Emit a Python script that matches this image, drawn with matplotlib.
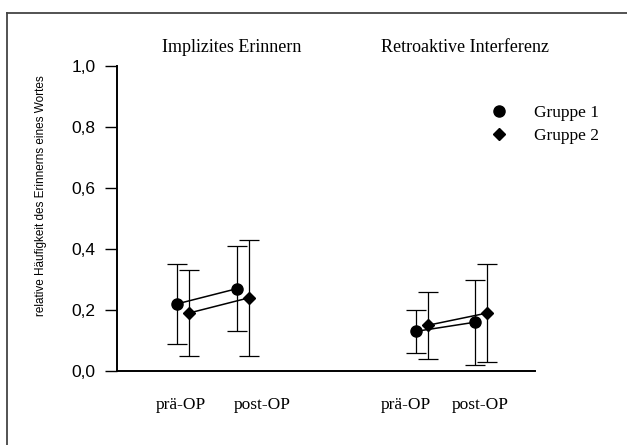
import matplotlib
matplotlib.use("Agg")
import matplotlib.pyplot as plt
from matplotlib.lines import Line2D

# ---- data ----
panels = ["Implizites Erinnern", "Retroaktive Interferenz"]
timepoints = ["prä-OP", "post-OP"]
groups = ["Gruppe 1", "Gruppe 2"]

# mean values [panel][time]
g1_mean = [[0.22, 0.27], [0.13, 0.16]]
g2_mean = [[0.19, 0.24], [0.15, 0.19]]
# upper / lower ends of error bars
g1_upper = [[0.35, 0.41], [0.20, 0.30]]
g1_lower = [[0.09, 0.13], [0.06, 0.02]]
g2_upper = [[0.33, 0.43], [0.26, 0.35]]
g2_lower = [[0.05, 0.05], [0.04, 0.03]]

y_ticks = [0.0, 0.2, 0.4, 0.6, 0.8, 1.0]
y_tick_labels = ["0,0", "0,2", "0,4", "0,6", "0,8", "1,0"]
y_label = "relative Häufigkeit des Erinnerns eines Wortes"

# ---- layout (pixel-like units) ----
W, H = 627, 445
fig = plt.figure(figsize=(W / 100, H / 100), dpi=100)
ax_left, ax_right, ax_top, ax_bottom = 117, 535, 66, 371
ax = fig.add_axes([ax_left / W, (H - ax_bottom) / H,
                   (ax_right - ax_left) / W, (ax_bottom - ax_top) / H])
ax.set_xlim(ax_left, ax_right)
ax.set_ylim(0, 1.0)

centers = [[183, 243], [422, 481]]
offset = 6
label_x = [[181, 262], [406, 480]]
title_x = [232, 465]

serif = ["Liberation Serif", "DejaVu Serif"]
sans = ["Liberation Sans", "DejaVu Sans"]

series = [
    (g1_mean, g1_lower, g1_upper, "o", 8.0, -offset),
    (g2_mean, g2_lower, g2_upper, "D", 6.5, offset),
]
for means, lows, highs, marker, ms, dx in series:
    for p in range(len(panels)):
        xs = [c + dx for c in centers[p]]
        ys = means[p]
        yerr = [[m - lo for m, lo in zip(ys, lows[p])],
                [hi - m for m, hi in zip(ys, highs[p])]]
        ax.errorbar(xs, ys, yerr=yerr, fmt="none", ecolor="black",
                    elinewidth=0.9, capsize=7.5, capthick=0.9, zorder=2)
        ax.plot(xs, ys, color="black", lw=1.1, marker=marker, ms=ms,
                mfc="black", mec="black", zorder=3)

# axes styling
for s in ["top", "right"]:
    ax.spines[s].set_visible(False)
ax.spines["left"].set_linewidth(1.4)
ax.spines["bottom"].set_linewidth(1.4)
ax.set_yticks(y_ticks)
ax.set_yticklabels(y_tick_labels, fontfamily=sans, fontsize=12.5)
ax.tick_params(axis="y", direction="out", length=8.6, width=1.0, pad=7)
ax.set_xticks([])

fig.text(41 / W, 1 - 196 / H, y_label, rotation=90, ha="center", va="center",
         fontfamily=sans, fontsize=8.5)

for p in range(len(panels)):
    fig.text(title_x[p] / W, 1 - 48 / H, panels[p], ha="center", va="center",
             fontfamily=serif, fontsize=13)
    for t in range(len(timepoints)):
        fig.text(label_x[p][t] / W, 1 - 405 / H, timepoints[t], ha="center",
                 va="center", fontfamily=serif, fontsize=12.5)

# legend
leg_handles = [Line2D([], [], ls="none", marker="o", ms=8.0, color="black"),
               Line2D([], [], ls="none", marker="D", ms=6.5, color="black")]
leg = fig.legend(leg_handles, groups, loc="upper left",
                 bbox_to_anchor=(480 / W, 1 - 96 / H), frameon=False,
                 prop={"family": serif, "size": 12.5}, handlelength=1.2,
                 handletextpad=1.4, labelspacing=0.4, borderpad=0)

# figure frame (left and top only)
fig.add_artist(Line2D([7 / W, 7 / W], [0, 1 - 13 / H], color="#444444",
                      lw=1.3, transform=fig.transFigure))
fig.add_artist(Line2D([7 / W, 1], [1 - 13 / H, 1 - 13 / H], color="#444444",
                      lw=1.3, transform=fig.transFigure))

fig.savefig("out.png", dpi=100)
